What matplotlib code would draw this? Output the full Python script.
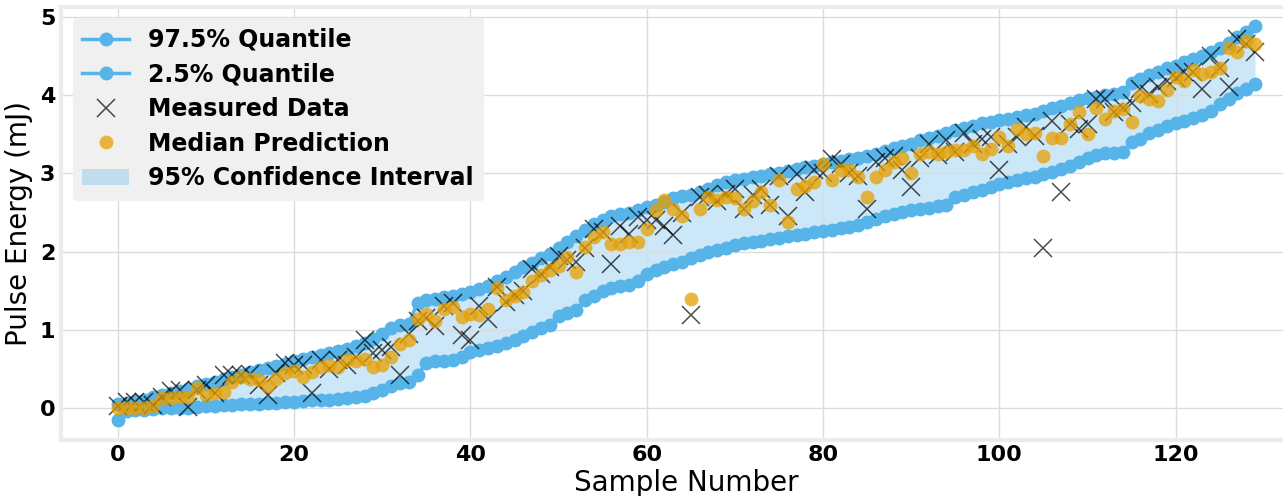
import numpy as np
import matplotlib
matplotlib.use("Agg")
import matplotlib.pyplot as plt

# values (130 samples)
upper_975 = [0.05, 0.07, 0.09, 0.11, 0.14, 0.17, 0.19, 0.22, 0.25, 0.28,
             0.31, 0.34, 0.37, 0.40, 0.43, 0.46, 0.49, 0.51, 0.54, 0.57,
             0.60, 0.63, 0.65, 0.68, 0.70, 0.73, 0.76, 0.80, 0.84, 0.88,
             0.95, 1.02, 1.06, 1.08, 1.35, 1.38, 1.40, 1.42, 1.44, 1.46,
             1.48, 1.52, 1.56, 1.62, 1.68, 1.74, 1.80, 1.86, 1.92, 1.97,
             2.05, 2.12, 2.20, 2.28, 2.35, 2.40, 2.45, 2.48, 2.50, 2.53,
             2.57, 2.60, 2.64, 2.68, 2.71, 2.72, 2.76, 2.80, 2.85, 2.89,
             2.92, 2.93, 2.95, 2.97, 2.99, 3.01, 3.03, 3.05, 3.08, 3.10,
             3.12, 3.14, 3.16, 3.18, 3.20, 3.22, 3.25, 3.28, 3.32, 3.35,
             3.38, 3.42, 3.45, 3.48, 3.52, 3.55, 3.58, 3.61, 3.64, 3.66,
             3.68, 3.70, 3.72, 3.74, 3.76, 3.80, 3.83, 3.86, 3.90, 3.94,
             3.96, 3.98, 4.00, 4.02, 4.04, 4.15, 4.20, 4.26, 4.30, 4.34,
             4.37, 4.42, 4.46, 4.50, 4.55, 4.60, 4.66, 4.74, 4.80, 4.88]

lower_025 = [-0.15, -0.03, -0.02, -0.02, -0.01, 0.00, 0.00, 0.01, 0.01, 0.02,
             0.03, 0.03, 0.04, 0.04, 0.05, 0.06, 0.06, 0.07, 0.07, 0.08,
             0.08, 0.09, 0.10, 0.10, 0.11, 0.12, 0.13, 0.14, 0.16, 0.19,
             0.23, 0.28, 0.32, 0.34, 0.42, 0.58, 0.60, 0.61, 0.62, 0.65,
             0.72, 0.74, 0.77, 0.80, 0.83, 0.87, 0.92, 0.98, 1.03, 1.07,
             1.18, 1.22, 1.25, 1.38, 1.43, 1.50, 1.53, 1.56, 1.58, 1.62,
             1.72, 1.76, 1.80, 1.84, 1.87, 1.92, 1.96, 1.99, 2.02, 2.05,
             2.09, 2.11, 2.12, 2.14, 2.16, 2.18, 2.20, 2.21, 2.23, 2.25,
             2.26, 2.28, 2.30, 2.32, 2.34, 2.38, 2.42, 2.45, 2.48, 2.51,
             2.53, 2.54, 2.56, 2.58, 2.59, 2.70, 2.73, 2.76, 2.79, 2.83,
             2.87, 2.89, 2.92, 2.94, 2.96, 2.99, 3.02, 3.06, 3.10, 3.15,
             3.20, 3.24, 3.26, 3.26, 3.27, 3.40, 3.44, 3.52, 3.56, 3.60,
             3.64, 3.67, 3.71, 3.75, 3.80, 3.88, 3.95, 4.03, 4.08, 4.14]

measured = [0.03, 0.08, 0.08, 0.08, 0.04, 0.15, 0.22, 0.23, 0.02, 0.23,
            0.30, 0.19, 0.42, 0.42, 0.43, 0.44, 0.30, 0.17, 0.45, 0.58,
            0.55, 0.55, 0.20, 0.62, 0.50, 0.62, 0.55, 0.65, 0.87, 0.70,
            0.75, 0.78, 0.42, 0.95, 1.12, 1.15, 1.05, 1.30, 1.35, 0.93,
            0.87, 1.31, 1.14, 1.55, 1.36, 1.45, 1.50, 1.78, 1.72, 1.80,
            1.95, 1.90, 1.87, 2.05, 2.29, 2.25, 1.84, 2.33, 2.23, 2.44,
            2.40, 2.40, 2.33, 2.21, 2.50, 1.19, 2.70, 2.72, 2.65, 2.74,
            2.80, 2.55, 2.72, 2.80, 2.60, 2.97, 2.46, 2.99, 2.76, 3.04,
            3.00, 3.18, 3.12, 3.01, 2.97, 2.55, 3.14, 3.20, 3.22, 3.04,
            2.82, 3.20, 3.38, 3.23, 3.42, 3.27, 3.52, 3.38, 3.44, 3.46,
            3.04, 3.38, 3.46, 3.59, 3.48, 2.05, 3.67, 2.76, 3.63, 3.57,
            3.63, 3.95, 3.95, 3.78, 3.84, 3.90, 4.08, 4.02, 4.10, 4.18,
            4.22, 4.29, 4.30, 4.08, 4.50, 4.35, 4.10, 4.72, 4.65, 4.55]

median = [0.00, 0.00, 0.01, 0.01, 0.03, 0.13, 0.13, 0.15, 0.15, 0.26,
          0.17, 0.19, 0.21, 0.34, 0.40, 0.38, 0.36, 0.28, 0.38, 0.45,
          0.48, 0.40, 0.46, 0.53, 0.55, 0.53, 0.62, 0.60, 0.63, 0.53,
          0.55, 0.65, 0.82, 0.87, 1.14, 1.20, 1.12, 1.27, 1.29, 1.17,
          1.20, 1.19, 1.27, 1.54, 1.38, 1.44, 1.48, 1.63, 1.70, 1.76,
          1.82, 1.93, 1.74, 2.06, 2.19, 2.25, 2.10, 2.10, 2.12, 2.12,
          2.29, 2.53, 2.66, 2.55, 2.46, 1.39, 2.55, 2.70, 2.66, 2.70,
          2.69, 2.55, 2.65, 2.76, 2.59, 2.92, 2.38, 2.80, 2.84, 2.89,
          3.12, 2.91, 3.04, 3.04, 2.95, 2.70, 2.96, 3.04, 3.14, 3.20,
          3.01, 3.25, 3.27, 3.25, 3.27, 3.30, 3.30, 3.35, 3.25, 3.31,
          3.46, 3.35, 3.57, 3.50, 3.51, 3.22, 3.45, 3.45, 3.63, 3.78,
          3.50, 3.84, 3.69, 3.80, 3.82, 3.66, 3.99, 3.95, 3.92, 4.06,
          4.23, 4.18, 4.32, 4.27, 4.29, 4.35, 4.60, 4.55, 4.69, 4.65]

samples = np.arange(len(median))

blue = '#56B4E9'
orange = '#E69F00'

fig = plt.figure(figsize=(12.83, 4.96), dpi=100)
ax = fig.add_axes([0.0475, 0.1137, 0.975, 0.873])
ax.set_facecolor('white')

ax.plot(samples, upper_975, 'o-', color=blue, lw=2.5, ms=9, label='97.5% Quantile')
ax.plot(samples, lower_025, 'o-', color=blue, lw=2.5, ms=9, label='2.5% Quantile')
ax.plot(samples, measured, 'x', color='black', alpha=0.7, ms=13, mew=1.1, label='Measured Data')
ax.plot(samples, median, 'o', color=orange, alpha=0.75, ms=10, mew=0, label='Median Prediction')
ax.fill_between(samples, lower_025, upper_975, color=blue, alpha=0.3, lw=0,
                zorder=0.5, label='95% Confidence Interval')

ax.set_xlim(-6.45, 135.45)
ax.set_ylim(-0.40, 5.13)
ax.set_xticks([0, 20, 40, 60, 80, 100, 120])
ax.set_yticks([0, 1, 2, 3, 4, 5])
ax.grid(True, color='#dcdcdc', lw=1)
ax.set_axisbelow(True)
for sp in ax.spines.values():
    sp.set_color('#ececec')
    sp.set_linewidth(3)
ax.tick_params(length=0, labelsize=16, pad=4)
for lab in ax.get_xticklabels() + ax.get_yticklabels():
    lab.set_fontweight('bold')

ax.set_xlabel('Sample Number', fontsize=20, labelpad=3)
ax.set_ylabel('Pulse Energy (mJ)', fontsize=20, labelpad=5)

leg = ax.legend(loc='upper left', prop={'weight': 'bold', 'size': 17},
                facecolor='#f0f0f0', edgecolor='#f0f0f0', framealpha=1,
                borderaxespad=0.5, labelspacing=0.45)

fig.savefig('out.png', dpi=100)
